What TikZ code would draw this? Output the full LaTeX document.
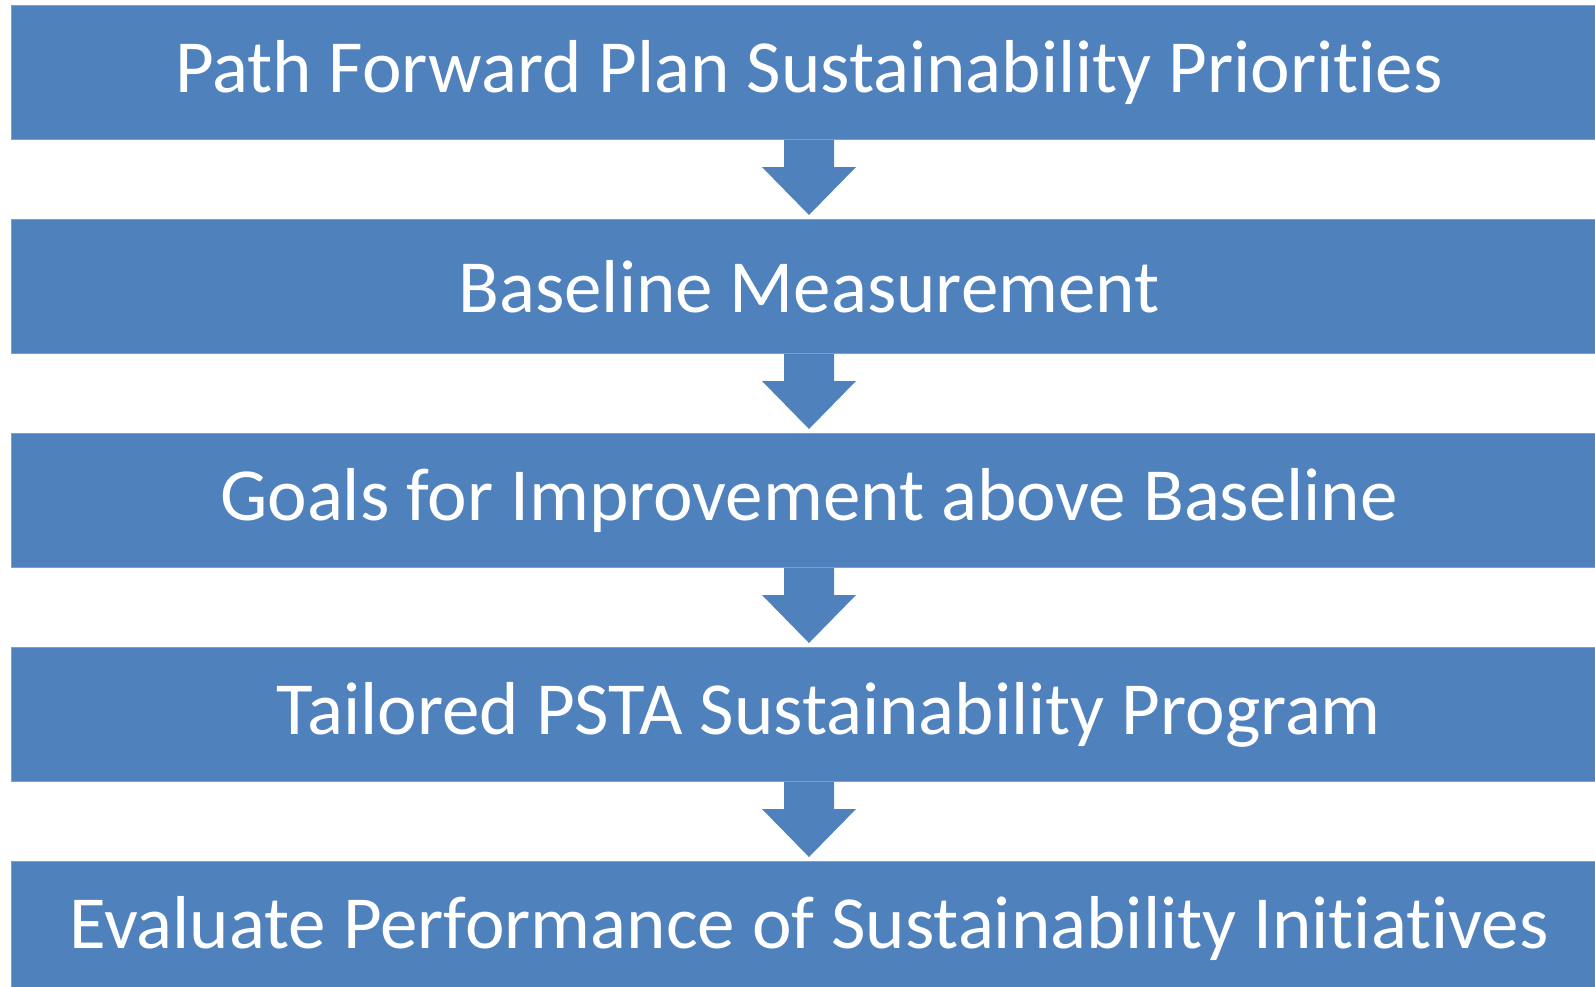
\documentclass[tikz,border=0pt]{standalone}
\usepackage{fontspec}
\setmainfont[Ligatures=NoCommon]{Carlito}
\usepackage{tikz}
\usetikzlibrary{positioning,calc}
\definecolor{boxblue}{HTML}{4F81BD}
\newcommand{\flowarrow}[2]{%
  \fill[boxblue] ([xshift=-12.5pt]#1.south) -- ([xshift=-12.5pt,yshift=-13.5pt]#1.south)
    -- ([xshift=-23.5pt,yshift=-13.5pt]#1.south) -- ([yshift=2pt]#2.north)
    -- ([xshift=23.5pt,yshift=-13.5pt]#1.south) -- ([xshift=12.5pt,yshift=-13.5pt]#1.south)
    -- ([xshift=12.5pt]#1.south) -- cycle;}

\begin{document}
\begin{tikzpicture}[node distance=39.5pt, every node/.style={draw=boxblue!75!white,line width=0.5pt,fill=boxblue,text=white,
    minimum width=797.5pt,minimum height=67pt,inner sep=0pt,font=\fontsize{37.5}{44}\selectfont}]
      \node(priorities){Path Forward Plan Sustainability Priorities};
      \node[below= of priorities](baseline){Baseline Measurement};
      \node[below= of baseline](goals){Goals for Improvement above Baseline};
      \node[below= of goals](program){\hspace{20pt}Tailored PSTA Sustainability Program};
      \node[below= of program](evaluate){Evaluate Performance of Sustainability Initiatives};
      % arrows
      \flowarrow{priorities}{baseline}
      \flowarrow{baseline}{goals}
      \flowarrow{goals}{program}
      \flowarrow{program}{evaluate}
      \pgfresetboundingbox
      \useasboundingbox ([xshift=-5.5pt,yshift=2.5pt]priorities.north west) rectangle ++(797.5pt,-493pt);
    \end{tikzpicture}
\end{document}
